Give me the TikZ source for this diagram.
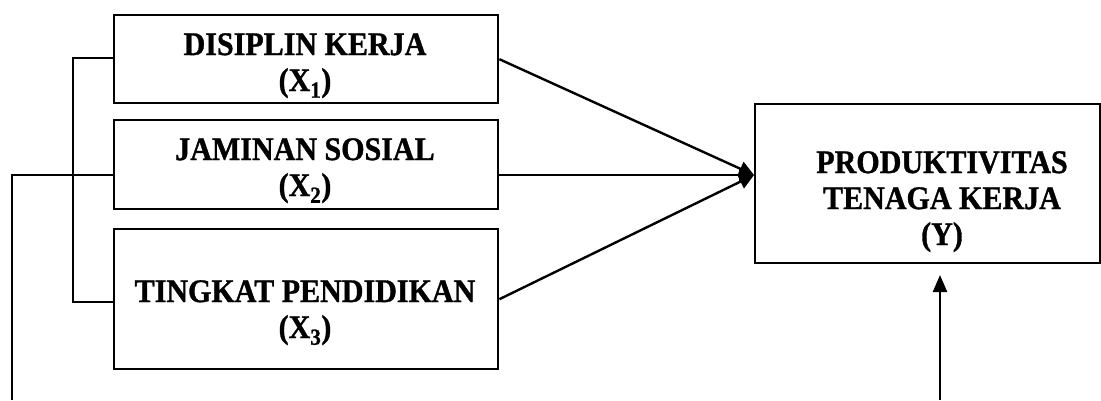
\documentclass[tikz,border=0pt]{standalone}
\usepackage{fontspec}
\setmainfont{Liberation Serif}
\newfontfamily\boxfont[FakeStretch=0.91,FakeBold=1]{Liberation Serif}
\usetikzlibrary{arrows.meta}
\begin{document}
\begin{tikzpicture}[x=1pt,y=-1pt,
  box/.style={draw,line width=2.4pt,inner sep=0pt,anchor=north west},
  txt/.style={inner sep=0pt,anchor=north,align=center,font=\boxfont\fontsize{33}{36}\selectfont\bfseries},
  conn/.style={line width=2.2pt},
  arr/.style={line width=2.4pt,-{Triangle[length=15pt,width=15pt]}}]
\useasboundingbox (0,0) rectangle (1101,400);
% boxes
\node[box,minimum width=384pt,minimum height=88pt] (b1) at (113,14) {};
\node[box,minimum width=384pt,minimum height=89pt] (b2) at (113,119) {};
\node[box,minimum width=384pt,minimum height=140pt] (b3) at (113,228) {};
\node[box,minimum width=345pt,minimum height=159pt] (by) at (754,103) {};
% texts
\node[txt] (t1) at (305,33) {DISIPLIN KERJA\\(X\textsubscript{1})};
\node[txt] (t2) at (305,138) {JAMINAN SOSIAL\\(X\textsubscript{2})};
\node[txt] (t3) at (305,280) {TINGKAT PENDIDIKAN\\(X\textsubscript{3})};
\node[txt] (ty) at (942,151) {PRODUKTIVITAS\\TENAGA KERJA\\(Y)};
% coordinates
\coordinate (yin) at (754,175);
\coordinate (bx) at (73,58);
\coordinate (bm) at (73,175);
\coordinate (bb) at (73,302);
\coordinate (lb) at (12,400);
\coordinate (ab) at (940,400);
\coordinate (at) at (940,275);
% arrows into Y
\draw[arr] (b1.east) -- (yin);
\draw[arr] (b2.east |- yin) -- (yin);
\draw[arr] (b3.east) -- (yin);
% bracket
\draw[conn] (b1.west |- bx) -- (bx) -- (bb) -- (b3.west |- bb);
\draw[conn] (bm) -- (b2.west |- bm);
\draw[conn] (lb) -- (lb |- bm) -- (bm);
% bottom arrow
\draw[arr,-{Triangle[length=17pt,width=14pt]}] (ab) -- (at);
\end{tikzpicture}
\end{document}
